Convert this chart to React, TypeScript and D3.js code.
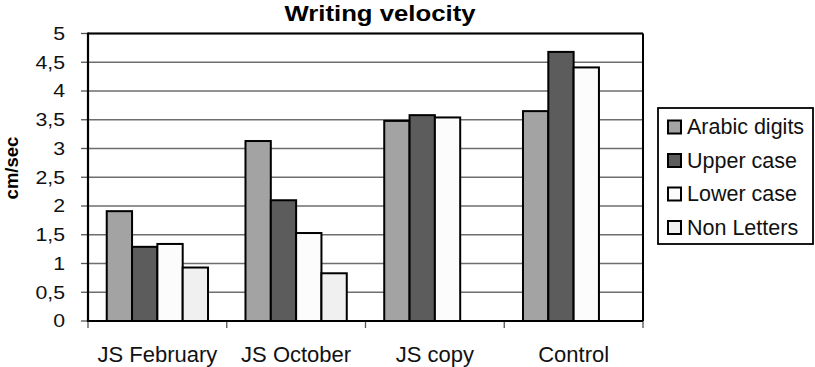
import React from "react";
import * as d3 from "d3";

const categories = ["JS February", "JS October", "JS copy", "Control"];
const seriesNames = ["Arabic digits", "Upper case", "Lower case", "Non Letters"];
const arabicDigits = [1.91, 3.13, 3.48, 3.65];
const upperCase = [1.29, 2.1, 3.58, 4.68];
const lowerCase = [1.34, 1.53, 3.54, 4.41];
const nonLetters: (number | null)[] = [0.93, 0.83, null, null];
const yTicks = [0, 0.5, 1, 1.5, 2, 2.5, 3, 3.5, 4, 4.5, 5];
const seriesColors = ["#a3a3a3", "#5c5c5c", "#fcfcfc", "#f0f0f0"];

const W = 815;
const H = 367;
const left = 88;
const right = 643;
const top = 33.5;
const bottom = 321;

export default function App() {
  const series = [arabicDigits, upperCase, lowerCase, nonLetters];
  const x0 = d3.scaleBand<string>().domain(categories).range([left, right]).padding(0);
  const x1 = d3
    .scaleBand<string>()
    .domain(seriesNames)
    .range([0, x0.bandwidth()])
    .paddingInner(0)
    .paddingOuter(0.74);
  const y = d3.scaleLinear().domain([0, 5]).range([bottom, top]);
  const fmt = (v: number) => String(v).replace(".", ",");
  const font = "'Liberation Sans', Arial, Helvetica, sans-serif";

  const boundaries = [...categories.map((c) => x0(c)!), right];

  return (
    <svg
      width={W}
      height={H}
      style={{ position: "absolute", left: 0, top: 0, background: "#fff" }}
      fontFamily={font}
    >
      <rect x={0} y={0} width={W} height={H} fill="#fff" />
      {/* gridlines */}
      {yTicks.map((t) => (
        <line key={"g" + t} x1={left} x2={right} y1={y(t)} y2={y(t)} stroke="#6e6e6e" strokeWidth={1.3} />
      ))}
      {/* y tick marks */}
      {yTicks.map((t) => (
        <line key={"tk" + t} x1={81} x2={left} y1={y(t)} y2={y(t)} stroke="#555" strokeWidth={1.3} />
      ))}
      {/* y tick labels */}
      {yTicks.map((t) => (
        <text
          key={"tl" + t}
          transform={`translate(65,${y(t)}) scale(1.15,1)`}
          textAnchor="end"
          dominantBaseline="central"
          fontSize={18.5}
          fill="#111"
        >
          {fmt(t)}
        </text>
      ))}
      {/* x tick marks */}
      {boundaries.map((b, i) => (
        <line key={"xt" + i} x1={b} x2={b} y1={bottom} y2={bottom + 7} stroke="#555" strokeWidth={1.3} />
      ))}
      {/* bars */}
      {categories.map((c, ci) =>
        series.map((s, si) => {
          const v = s[ci];
          if (v === null || v === undefined) return null;
          const bx = x0(c)! + x1(seriesNames[si])!;
          return (
            <rect
              key={c + si}
              x={bx}
              y={y(v)}
              width={x1.bandwidth()}
              height={bottom - y(v)}
              fill={seriesColors[si]}
              stroke="#000"
              strokeWidth={2}
            />
          );
        })
      )}
      {/* plot frame */}
      <line x1={left} x2={right} y1={top} y2={top} stroke="#000" strokeWidth={2.2} />
      <line x1={right} x2={right} y1={top} y2={bottom} stroke="#000" strokeWidth={2} />
      <line x1={left} x2={left} y1={top - 1} y2={bottom + 1} stroke="#000" strokeWidth={2.2} />
      <line x1={left} x2={right} y1={bottom} y2={bottom} stroke="#000" strokeWidth={2.2} />
      {/* x labels */}
      {categories.map((c) => (
        <text key={"xl" + c} x={x0(c)! + x0.bandwidth() / 2} y={362} textAnchor="middle" fontSize={22} fill="#111">
          {c}
        </text>
      ))}
      {/* title */}
      <text
        transform="translate(380,20.5) scale(1.17,1)"
        textAnchor="middle"
        fontSize={22}
        fontWeight="bold"
        fill="#000"
      >
        Writing velocity
      </text>
      {/* y axis title */}
      <text
        transform="translate(11,168) rotate(-90)"
        textAnchor="middle"
        dominantBaseline="central"
        fontSize={18.5}
        fontWeight="bold"
        fill="#000"
      >
        cm/sec
      </text>
      {/* legend */}
      <rect x={658} y={108} width={155} height={136} fill="#fff" stroke="#000" strokeWidth={1.8} />
      {seriesNames.map((n, i) => {
        const cy = 127 + i * 33.5;
        return (
          <g key={"lg" + n}>
            <rect x={668} y={cy - 6.5} width={13} height={13} fill={seriesColors[i]} stroke="#000" strokeWidth={2} />
            <text x={687} y={cy} dominantBaseline="central" fontSize={21.5} fill="#111">
              {n}
            </text>
          </g>
        );
      })}
    </svg>
  );
}
